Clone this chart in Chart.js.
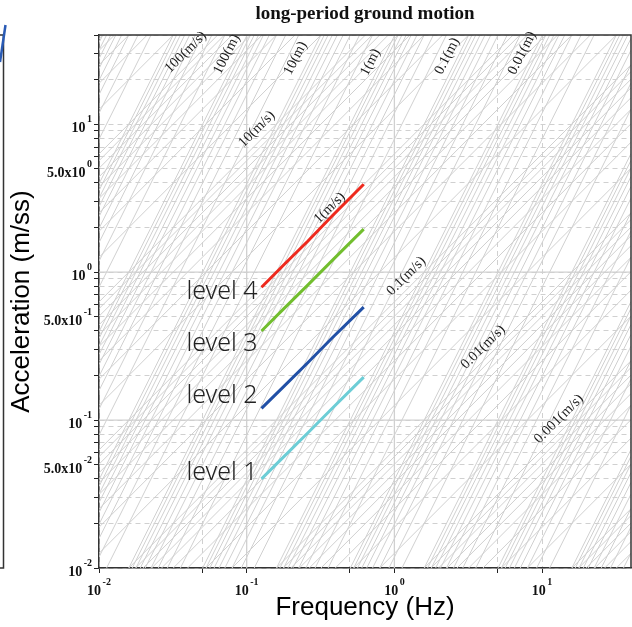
<!DOCTYPE html>
<html>
<head>
<meta charset="utf-8">
<script src="https://cdn.jsdelivr.net/npm/chart.js@4.4.1/dist/chart.umd.min.js"></script>
<style>body{margin:0;background:#fff}</style>
</head>
<body>
<canvas id="myChart" width="632" height="627"></canvas>
<script>
// axis ranges: frequency (Hz) and acceleration (m/ss)
var freqMin = 0.01, freqMax = 40;
var accMin = 0.01, accMax = 40;

var xTickValues = [0.01, 0.05, 0.1, 0.5, 1, 5, 10];
var yMantissas = [1, 2, 3, 4, 5, 6, 7, 8, 9];
var yDecades = [-2, -1, 0, 1];

// level lines
var levelNames = ['level 4', 'level 3', 'level 2', 'level 1'];
var levelColors = ['#ee2a1e', '#72be2e', '#2150a6', '#6dcdd6'];
var levelFreq = [0.126, 0.18, 0.26, 0.38, 0.62];
var level4 = [0.79, 1.13, 1.62, 2.40, 3.92];
var level3 = [0.40, 0.57, 0.82, 1.20, 1.95];
var level2 = [0.12, 0.17, 0.245, 0.36, 0.58];
var level1 = [0.040, 0.057, 0.082, 0.12, 0.195];
var levelValues = [level4, level3, level2, level1];
// where the level captions sit (frequency, acceleration)
var levelLabelFreq = [0.1186, 0.1186, 0.1186, 0.1186];
var levelLabelAcc = [0.733, 0.326, 0.145, 0.0439];

// tripartite background: constant velocity (m/s) and displacement (m)
var gridMantissas = [1, 2, 3, 4, 5, 6, 7, 8, 9];
var velocityDecades = [-5, -4, -3, -2, -1, 0, 1, 2];
var displacementDecades = [-7, -6, -5, -4, -3, -2, -1, 0, 1, 2, 3, 4];

// guide captions on the background lines
var guideText = ['100(m/s)', '100(m)', '10(m)', '1(m)', '0.1(m)', '0.01(m)',
  '10(m/s)', '1(m/s)', '0.1(m/s)', '0.01(m/s)', '0.001(m/s)'];
var guideFreq = [0.0387, 0.0733, 0.214, 0.689, 2.28, 7.33, 0.117, 0.364, 1.205, 3.99, 13.0];
var guideAcc = [30.6, 29.7, 27.9, 26.2, 28.8, 30.2, 9.25, 2.71, 0.94, 0.311, 0.1016];
var guideAngle = [-45, -63, -63, -63, -63, -63, -45, -45, -45, -45, -45];

var yTickValues = [];
yDecades.forEach(function (d) {
  yMantissas.forEach(function (m) {
    var v = m * Math.pow(10, d);
    if (v >= accMin && v <= accMax) yTickValues.push(v);
  });
});

// split a tick value into [base text, exponent] or null when unlabeled
function yLabel(v) {
  var e = Math.floor(Math.log10(v) + 1e-9);
  var m = Math.round(v / Math.pow(10, e));
  if (m === 1) return ['10', String(e)];
  if (m === 5) return ['5.0x10', String(e)];
  return null;
}
function xLabel(v) {
  var e = Math.round(Math.log10(v));
  return Math.abs(v - Math.pow(10, e)) < 1e-9 ? ['10', String(e)] : null;
}

var datasets = [];
levelValues.forEach(function (vals, i) {
  datasets.push({
    data: levelFreq.map(function (f, j) { return {x: f, y: vals[j]}; }),
    borderColor: levelColors[i],
    borderWidth: 3,
    pointRadius: 0,
    showLine: true,
    order: 0
  });
});

var gray = '#d0d0d0';
velocityDecades.forEach(function (d) {
  gridMantissas.forEach(function (m) {
    var v = m * Math.pow(10, d);
    datasets.push({
      data: [{x: freqMin, y: 2 * Math.PI * freqMin * v}, {x: freqMax, y: 2 * Math.PI * freqMax * v}],
      borderColor: gray, borderWidth: 1, pointRadius: 0, showLine: true, order: 5
    });
  });
});
displacementDecades.forEach(function (d) {
  gridMantissas.forEach(function (m) {
    var dsp = m * Math.pow(10, d);
    var w1 = 2 * Math.PI * freqMin, w2 = 2 * Math.PI * freqMax;
    datasets.push({
      data: [{x: freqMin, y: w1 * w1 * dsp}, {x: freqMax, y: w2 * w2 * dsp}],
      borderColor: gray, borderWidth: 1, pointRadius: 0, showLine: true, order: 5
    });
  });
});

var baseFont = 'bold 14px "Liberation Serif"';
var expFont = 'bold 10px "Liberation Serif"';

var extras = {
  id: 'extras',
  beforeDatasetsDraw: function (chart) {
    var ctx = chart.ctx, a = chart.chartArea;
    var xs = chart.scales.x, ys = chart.scales.y;
    ctx.save();
    ctx.strokeStyle = gray;
    ctx.lineWidth = 1.3;
    [0.1, 1].forEach(function (v) {
      var px = xs.getPixelForValue(v), py = ys.getPixelForValue(v);
      ctx.beginPath(); ctx.moveTo(px, a.top); ctx.lineTo(px, a.bottom); ctx.stroke();
      ctx.beginPath(); ctx.moveTo(a.left, py); ctx.lineTo(a.right, py); ctx.stroke();
    });
    ctx.restore();
  },
  afterDatasetsDraw: function (chart) {
    var ctx = chart.ctx;
    var xs = chart.scales.x, ys = chart.scales.y;
    ctx.save();
    ctx.fillStyle = '#1a1a1a';
    ctx.font = '14.5px "Liberation Serif"';
    ctx.textAlign = 'center';
    ctx.textBaseline = 'middle';
    guideText.forEach(function (t, i) {
      ctx.save();
      ctx.translate(xs.getPixelForValue(guideFreq[i]), ys.getPixelForValue(guideAcc[i]));
      ctx.rotate(guideAngle[i] * Math.PI / 180);
      ctx.fillText(t, 0, 0);
      ctx.restore();
    });
    ctx.font = '300 25px "Noto Sans"';
    ctx.textAlign = 'right';
    ctx.fillStyle = '#222';
    levelNames.forEach(function (t, i) {
      ctx.fillText(t, xs.getPixelForValue(levelLabelFreq[i]), ys.getPixelForValue(levelLabelAcc[i]));
    });
    ctx.restore();
  },
  afterDraw: function (chart) {
    var ctx = chart.ctx, a = chart.chartArea;
    var xs = chart.scales.x, ys = chart.scales.y;
    ctx.save();
    ctx.strokeStyle = '#333';
    ctx.lineWidth = 1.5;
    ctx.beginPath();
    ctx.moveTo(a.left, a.top); ctx.lineTo(a.right, a.top); ctx.lineTo(a.right, a.bottom);
    ctx.stroke();
    // edge of the neighbouring panel
    ctx.beginPath();
    ctx.moveTo(0, a.top); ctx.lineTo(3.5, a.top); ctx.lineTo(3.5, a.bottom); ctx.lineTo(0, a.bottom);
    ctx.stroke();
    ctx.strokeStyle = '#2a5bb5';
    ctx.lineWidth = 2.5;
    ctx.beginPath(); ctx.moveTo(5.5, 25); ctx.lineTo(0, 62); ctx.stroke();

    // tick labels with raised exponents
    ctx.fillStyle = '#111';
    ctx.textBaseline = 'alphabetic';
    yTickValues.forEach(function (v) {
      var lab = yLabel(v);
      if (!lab) return;
      var py = ys.getPixelForValue(v);
      var right = a.left - 7;
      ctx.font = expFont;
      ctx.textAlign = 'right';
      var ew = ctx.measureText(lab[1]).width;
      ctx.fillText(lab[1], right, py - 2);
      ctx.font = baseFont;
      ctx.fillText(lab[0], right - ew - 1.5, py + 8);
    });
    xTickValues.forEach(function (v) {
      var lab = xLabel(v);
      if (!lab) return;
      var px = xs.getPixelForValue(v);
      ctx.font = baseFont;
      var bw = ctx.measureText(lab[0]).width;
      ctx.font = expFont;
      var ew = ctx.measureText(lab[1]).width;
      var left = px - (bw + ew + 1.5) / 2;
      ctx.textAlign = 'left';
      ctx.font = baseFont;
      ctx.fillText(lab[0], left, a.bottom + 27);
      ctx.font = expFont;
      ctx.fillText(lab[1], left + bw + 1.5, a.bottom + 17);
    });
    ctx.restore();
  }
};

new Chart(document.getElementById('myChart').getContext('2d'), {
  type: 'scatter',
  data: {datasets: datasets},
  options: {
    responsive: false,
    animation: false,
    layout: {padding: {right: 1}},
    plugins: {
      legend: {display: false},
      tooltip: {enabled: false},
      title: {
        display: true,
        text: 'long-period ground motion',
        fullSize: false,
        color: '#111',
        font: {family: '"Liberation Serif"', size: 19, weight: 'bold'},
        padding: {top: 3, bottom: 9.2}
      }
    },
    scales: {
      x: {
        type: 'logarithmic',
        min: freqMin, max: freqMax,
        afterBuildTicks: function (s) { s.ticks = xTickValues.map(function (v) { return {value: v}; }); },
        afterFit: function (s) { s.height = 59; },
        ticks: {display: false},
        grid: {color: gray, tickColor: '#222', tickLength: 5, lineWidth: 1},
        border: {color: '#333', width: 1.5, dash: [5, 4]},
        title: {display: true, text: 'Frequency (Hz)', color: '#000',
          font: {family: '"Liberation Sans"', size: 26}, padding: {top: 0, bottom: 4}}
      },
      y: {
        type: 'logarithmic',
        min: accMin, max: accMax,
        afterBuildTicks: function (s) { s.ticks = yTickValues.map(function (v) { return {value: v}; }); },
        afterFit: function (s) { s.width = 99; },
        ticks: {display: false},
        grid: {color: gray, tickColor: '#222', tickLength: 5, lineWidth: 1},
        border: {color: '#333', width: 1.5, dash: [5, 4]},
        title: {display: true, text: 'Acceleration (m/ss)', color: '#000',
          font: {family: '"Liberation Sans"', size: 26}, padding: {top: 6, bottom: 0}}
      }
    }
  },
  plugins: [extras]
});
</script>
</body>
</html>
